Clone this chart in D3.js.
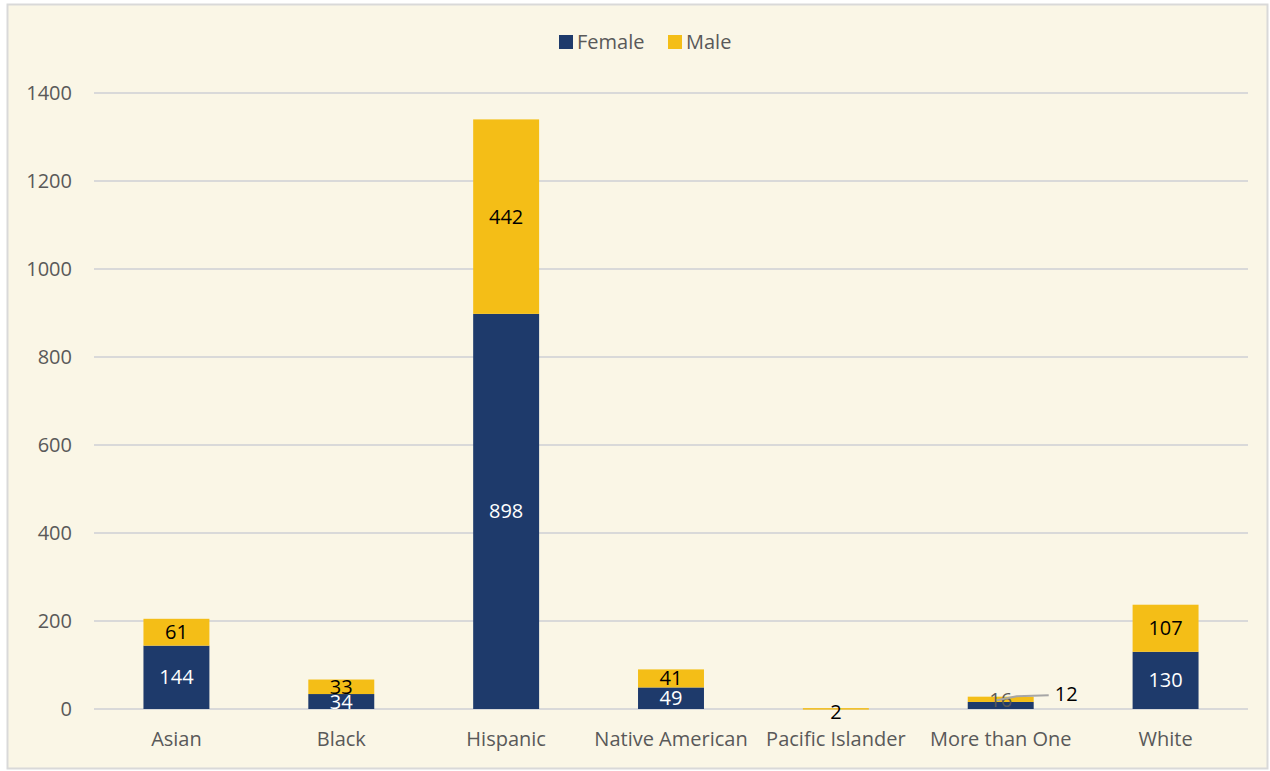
<!DOCTYPE html>
<html>
<head>
<meta charset="utf-8">
<script src="https://cdn.jsdelivr.net/npm/d3@7"></script>
<style>
  body { margin: 0; background: #fff; }
  svg { display: block; font-family: "Open Sans", sans-serif; }
</style>
</head>
<body>
<svg id="chart"></svg>
<script>
const categories = ["Asian", "Black", "Hispanic", "Native American", "Pacific Islander", "More than One", "White"];
const female = [144, 34, 898, 49, 0, 16, 130];
const male = [61, 33, 442, 41, 2, 12, 107];
const seriesNames = ["Female", "Male"];
const yTicks = [0, 200, 400, 600, 800, 1000, 1200, 1400];

const colors = {"Female": "#1E3A6B", "Male": "#F4BE17"};
const labelColors = {"Female": "#ffffff", "Male": "#000000"};

const W = 1270, H = 771;
const margins = {"left": 94, "right": 22, "top": 93, "bottom": 62};
const fontSize = 20;

const svg = d3.select("#chart").attr("width", W).attr("height", H);

// background + frame
svg.append("rect")
   .attr("x", 7.5).attr("y", 4.5)
   .attr("width", W - 10).attr("height", H - 7)
   .attr("fill", "#FAF6E6")
   .attr("stroke", "#D9D9D9")
   .attr("stroke-width", 2);

const rows = categories.map((c, i) => ({"cat": c, "Female": female[i], "Male": male[i]}));
const stacked = d3.stack().keys(seriesNames)(rows);

const x = d3.scaleBand()
            .domain(categories)
            .range([margins.left, W - margins.right])
            .paddingInner(0.6)
            .paddingOuter(0.3);

const y = d3.scaleLinear()
            .domain([0, 1400])
            .range([H - margins.bottom, margins.top]);

// gridlines
svg.append("g")
   .selectAll("line")
   .data(yTicks)
   .enter()
   .append("line")
   .attr("x1", margins.left)
   .attr("x2", W - margins.right)
   .attr("y1", d => y(d))
   .attr("y2", d => y(d))
   .attr("stroke", "#D9D9D9")
   .attr("stroke-width", 2);

// y axis labels
const yAxis = d3.axisLeft(y).tickValues(yTicks).tickFormat(d3.format("d")).tickSize(0).tickPadding(22);
svg.append("g")
   .attr("transform", "translate(" + margins.left + ",0)")
   .call(yAxis)
   .call(g => g.select(".domain").remove())
   .selectAll("text")
   .attr("font-size", fontSize)
   .attr("font-family", "Open Sans, sans-serif")
   .attr("fill", "#595959");

// x axis labels
const xAxis = d3.axisBottom(x).tickSize(0).tickPadding(23);
svg.append("g")
   .attr("transform", "translate(0," + (H - margins.bottom) + ")")
   .call(xAxis)
   .call(g => g.select(".domain").remove())
   .selectAll("text")
   .attr("font-size", fontSize)
   .attr("font-family", "Open Sans, sans-serif")
   .attr("fill", "#595959");

// bars
const layers = svg.append("g")
   .selectAll("g")
   .data(stacked)
   .enter()
   .append("g")
   .attr("fill", d => colors[d.key]);

layers.selectAll("rect")
   .data(d => d)
   .enter()
   .append("rect")
   .attr("x", d => x(d.data.cat))
   .attr("width", x.bandwidth())
   .attr("y", d => y(d[1]))
   .attr("height", d => Math.max(y(d[0]) - y(d[1]), d[1] > d[0] ? 1.5 : 0));

// data labels
stacked.forEach(layer => {
  layer.forEach(d => {
    const v = d[1] - d[0];
    if (v <= 0) return;
    let cx = x(d.data.cat) + x.bandwidth() / 2;
    let cy = (y(d[0]) + y(d[1])) / 2;
    let col = labelColors[layer.key];
    if (d.data.cat === "Pacific Islander") cy += 3;
    if (d.data.cat === "More than One" && layer.key === "Female") { col = "#595959"; cy -= 5; }
    if (d.data.cat === "More than One" && layer.key === "Male") {
      // label pulled out to the right with a leader line
      const lx = cx + 54, ly = cy - 5;
      svg.append("path")
         .attr("d", "M" + (cx - 4) + "," + (cy + 1) + " L" + (cx + 16) + "," + (cy - 3) + " L" + (lx - 6) + "," + (cy - 4))
         .attr("fill", "none")
         .attr("stroke", "#A6A6A6")
         .attr("stroke-width", 2);
      svg.append("text")
         .attr("x", lx).attr("y", ly)
         .attr("dy", "0.35em")
         .attr("font-size", fontSize)
         .attr("fill", "#000000")
         .text(v);
      return;
    }
    svg.append("text")
       .attr("x", cx).attr("y", cy)
       .attr("dy", "0.35em")
       .attr("text-anchor", "middle")
       .attr("font-size", fontSize)
       .attr("fill", col)
       .text(v);
  });
});

// legend
const legend = svg.append("g").attr("transform", "translate(559,35)");
const legendX = [0, 109];
seriesNames.forEach((s, i) => {
  legend.append("rect")
        .attr("x", legendX[i]).attr("y", 0)
        .attr("width", 14).attr("height", 14)
        .attr("fill", colors[s]);
  legend.append("text")
        .attr("x", legendX[i] + 18).attr("y", 7)
        .attr("dy", "0.35em")
        .attr("font-size", fontSize)
        .attr("fill", "#595959")
        .text(s);
});
</script>
</body>
</html>
